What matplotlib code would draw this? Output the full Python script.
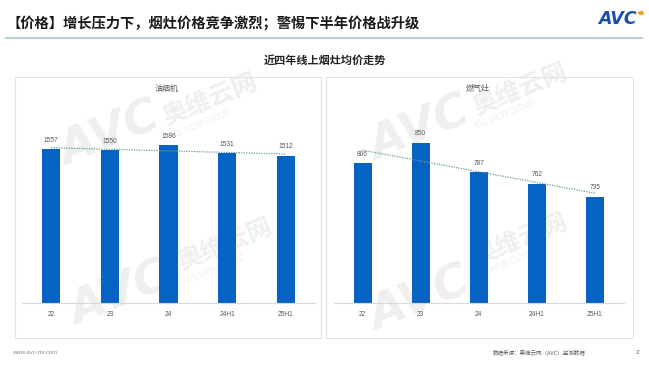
import numpy as np
import matplotlib.pyplot as plt
from matplotlib.patches import Rectangle
from matplotlib.lines import Line2D

plt.rcParams['font.family'] = ['Noto Sans CJK SC', 'DejaVu Sans']

# data
categories = ['22', '23', '24', '24H1', '25H1']
hood_prices = [1557, 1550, 1586, 1531, 1512]    # 油烟机
stove_prices = [806, 850, 787, 762, 735]        # 燃气灶

W, H = 649, 366
fig = plt.figure(figsize=(W / 100, H / 100), dpi=100)
fig.patch.set_facecolor('white')


def fx(x):
    return x / W


def fy(y):
    return 1 - y / H


# background axes for watermarks so they stay behind the bars
bg = fig.add_axes([0, 0, 1, 1], zorder=-1)
bg.set_xlim(0, W)
bg.set_ylim(H, 0)
bg.axis('off')
wm = dict(color='#efefef', rotation=22, ha='center', va='center')
for (x, y) in [(110, 135), (420, 130), (120, 295), (420, 300)]:
    bg.text(x, y, 'AVC', fontsize=34, fontweight='bold', fontstyle='italic',
            family='DejaVu Sans', **wm)
for (x, y) in [(210, 100), (520, 90), (225, 245), (520, 240)]:
    bg.text(x, y, '奥维云网', fontsize=18, fontweight='bold', **wm)
for (x, y) in [(200, 125), (505, 115), (215, 270), (505, 265)]:
    bg.text(x, y, 'ALL VIEW CLOUD', fontsize=5.5, family='DejaVu Sans', **wm)

# header
fig.text(fx(6), fy(23), '【价格】增长压力下，烟灶价格竞争激烈；警惕下半年价格战升级',
         fontsize=10.3, fontweight='bold', color='#1a1a1a', va='center', ha='left')
fig.add_artist(Line2D([fx(6), fx(642)], [fy(38), fy(38)], color='#b7d1d4', lw=1.6))
fig.text(fx(617), fy(19), 'AVC', fontsize=12.5, fontweight='bold', fontstyle='italic',
         color='#1c4fa8', ha='center', va='center', family='DejaVu Sans')
fig.add_artist(plt.Circle((fx(641), fy(13)), 0.0035, color='#f39a1e'))

fig.text(fx(325), fy(60), '近四年线上烟灶均价走势', fontsize=8, fontweight='bold',
         color='#222222', ha='center', va='center')

# panel frames
for x0, x1 in [(15, 321), (326, 633)]:
    fig.add_artist(Rectangle((fx(x0), fy(338)), fx(x1) - fx(x0), fy(77) - fy(338),
                             fill=False, edgecolor='#e3e3e3', lw=0.8))


def panel(left_px, right_px, values, ymin, ymax, title, title_x):
    ax = fig.add_axes([fx(left_px), fy(302.7), fx(right_px) - fx(left_px), fy(99.7) - fy(302.7)])
    ax.patch.set_alpha(0)
    x = np.arange(len(values))
    ax.bar(x, values, width=0.31, color='#0663c3', zorder=2)
    # linear trend line
    k, b = np.polyfit(x, values, 1)
    ax.plot(x, k * x + b, color='#6f9a9a', lw=0.9, ls=(0, (1, 1)), zorder=3)
    for xi, v in zip(x, values):
        ax.annotate(str(v), (xi, v), xytext=(0, 4), textcoords='offset points',
                    ha='center', va='bottom', fontsize=4.8, color='#595959', family='Liberation Sans')
    ax.set_xlim(-0.5, len(values) - 0.5)
    ax.set_ylim(ymin, ymax)
    ax.set_yticks([])
    ax.set_xticks(x)
    ax.set_xticklabels(categories, fontsize=4.8, color='#595959', family='Liberation Sans')
    ax.tick_params(axis='x', length=0, pad=6)
    for s in ['top', 'right', 'left']:
        ax.spines[s].set_visible(False)
    ax.spines['bottom'].set_color('#d9d9d9')
    ax.spines['bottom'].set_linewidth(0.8)
    fig.text(fx(title_x), fy(88), title, fontsize=5.8, color='#595959', ha='center', va='center')
    return ax


panel(22, 315, hood_prices, 500, 1900, '油烟机', 167)
panel(333.5, 624, stove_prices, 508, 942, '燃气灶', 478)

# footer
fig.text(fx(12), fy(353), 'www.avc-mr.com', fontsize=4.3, color='#8c8c8c', va='center',
         family='Liberation Sans')
fig.text(fx(493), fy(353), '数据来源：奥维云网（AVC）监测数据', fontsize=4, color='#595959',
         va='center')
fig.text(fx(637), fy(353), '2', fontsize=4.5, color='#595959', va='center', ha='center',
         family='Liberation Sans')

fig.savefig('out.png', dpi=100, facecolor='white')
